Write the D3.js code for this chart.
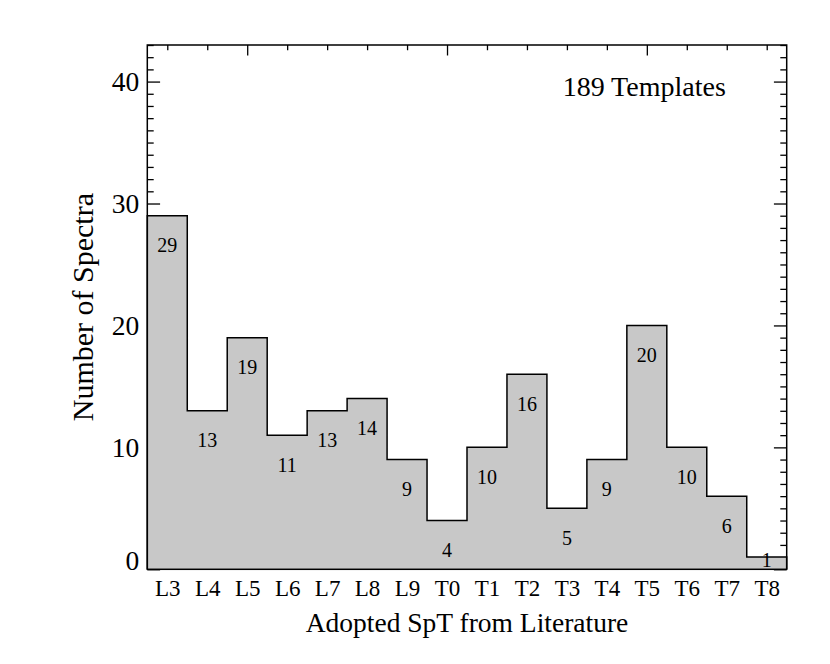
<!DOCTYPE html>
<html>
<head>
<meta charset="utf-8">
<script src="https://cdn.jsdelivr.net/npm/d3@7"></script>
<style>
  body { margin: 0; background: #fff; }
  svg text { font-family: "Liberation Serif", "Times New Roman", serif; fill: #000; }
</style>
</head>
<body>
<div id="chart"></div>
<script>
// spectral types and counts of templates
var spt_labels = ["L3","L4","L5","L6","L7","L8","L9","T0","T1","T2","T3","T4","T5","T6","T7","T8"];
var spt_codes  = [13,14,15,16,17,18,19,20,21,22,23,24,25,26,27,28];
var counts     = [29,13,19,11,13,14,9,4,10,16,5,9,20,10,6,1];
var y_major    = [0,10,20,30,40];

const W = 830, H = 664;
const margin = {top: 45, right: 43.3, bottom: 94.7, left: 147.3};
const width = W - margin.left - margin.right;
const height = H - margin.top - margin.bottom;

var svg = d3.select('#chart').append('svg')
    .attr('width', W)
    .attr('height', H);

var g = svg.append('g')
    .attr('transform', 'translate(' + margin.left + ',' + margin.top + ')');

var x = d3.scaleLinear().domain([12.5, 28.5]).range([0, width]);
var y = d3.scaleLinear().domain([0, 43]).range([height, 0]);

const xTick = height * 0.02, yTick = width * 0.02;

// y ticks, left and right (minor every 1, major every 10)
var yMinor = d3.range(0, 44).filter(v => v % 10 != 0);
g.append('g').call(d3.axisLeft(y).tickValues(yMinor).tickSize(-yTick/2).tickFormat(''));
g.append('g').attr('transform', 'translate(' + width + ',0)')
    .call(d3.axisRight(y).tickValues(yMinor).tickSize(-yTick/2).tickFormat(''));
var yl = g.append('g').call(d3.axisLeft(y).tickValues(y_major).tickSize(-yTick).tickPadding(8));
g.append('g').attr('transform', 'translate(' + width + ',0)')
    .call(d3.axisRight(y).tickValues(y_major).tickSize(-yTick).tickFormat(''));
yl.selectAll('text').attr('font-size', '27.5px')
    .attr('dy', d => d == 0 ? '0em' : '0.32em');

// x ticks on top (minor every 1, major every 5) and labels below
var xMinor = spt_codes.filter(v => v % 5 != 0);
var xMajor = spt_codes.filter(v => v % 5 == 0);
g.append('g').call(d3.axisTop(x).tickValues(xMinor).tickSize(-xTick/2).tickFormat(''));
g.append('g').call(d3.axisTop(x).tickValues(xMajor).tickSize(-xTick).tickFormat(''));
g.append('g').attr('transform', 'translate(0,' + height + ')')
    .call(d3.axisBottom(x).tickValues(xMinor).tickSize(-xTick/2).tickFormat(''));
var xl = g.append('g').attr('transform', 'translate(0,' + height + ')')
    .call(d3.axisBottom(x).tickValues(spt_codes).tickSize(0).tickPadding(10)
        .tickFormat((d, i) => spt_labels[i]));
xl.selectAll('text').attr('font-size', '23px');

g.selectAll('.domain').remove();
g.selectAll('.tick line').attr('stroke', '#000').attr('stroke-width', 1.3);

// histogram step outline
var step_pts = [[12.5, 0]];
counts.forEach(function(c, i){
    step_pts.push([spt_codes[i] - 0.5, c]);
    step_pts.push([spt_codes[i] + 0.5, c]);
});
step_pts.push([28.5, 0]);

var line = d3.line()
    .x(d => x(d[0]))
    .y(d => y(d[1]));

g.append('path')
    .datum(step_pts)
    .attr('d', line)
    .attr('fill', '#c8c8c8')
    .attr('stroke', '#000')
    .attr('stroke-width', 1.5);

// frame
g.append('rect')
    .attr('x', 0).attr('y', 0)
    .attr('width', width).attr('height', height)
    .attr('fill', 'none')
    .attr('stroke', '#000')
    .attr('stroke-width', 1.5);

// count labels inside bars
g.selectAll('.cnt')
    .data(counts)
    .enter()
    .append('text')
    .attr('class', 'cnt')
    .attr('x', (d, i) => x(spt_codes[i]))
    .attr('y', d => y(Math.max(d - 3, 0.2)))
    .attr('text-anchor', 'middle')
    .attr('font-size', '20px')
    .text(d => d);

// annotation
g.append('text')
    .attr('x', 578.5)
    .attr('y', 51)
    .attr('text-anchor', 'end')
    .attr('font-size', '28px')
    .text('189 Templates');

// axis titles
svg.append('text')
    .attr('x', margin.left + width/2)
    .attr('y', 632)
    .attr('text-anchor', 'middle')
    .attr('font-size', '27.5px')
    .text('Adopted SpT from Literature');

svg.append('text')
    .attr('transform', 'translate(92.5,' + (margin.top + height/2) + ') rotate(-90)')
    .attr('text-anchor', 'middle')
    .attr('font-size', '30px')
    .text('Number of Spectra');
</script>
</body>
</html>
